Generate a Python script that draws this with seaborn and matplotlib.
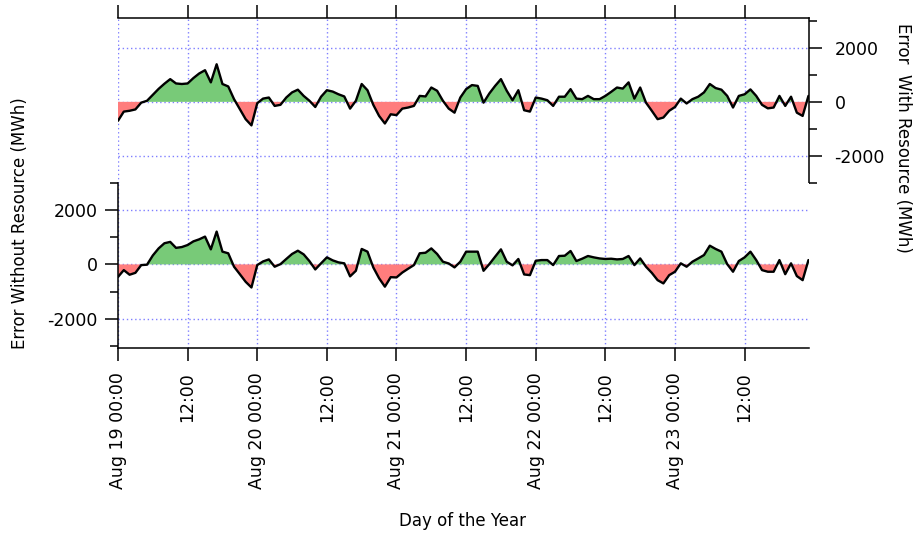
import numpy as np
import pandas as pd
import matplotlib
matplotlib.use("Agg")
import matplotlib.pyplot as plt
import matplotlib.dates as mdates
from matplotlib.ticker import MultipleLocator, FuncFormatter
import seaborn as sns

# Hourly forecast error, Aug 19 00:00 through Aug 23 23:00 (MWh)
timestamps = pd.date_range("2008-08-19 00:00", periods=120, freq="h")

error_with_resource = [
    -700, -360, -330, -280, -30, 40, 260, 480, 670, 840,
    680, 660, 680, 880, 1050, 1170, 720, 1390, 660, 570,
    100, -270, -640, -870, -50, 120, 160, -150, -110, 160,
    350, 450, 220, 40, -190, 190, 430, 380, 280, 200,
    -250, 40, 660, 430, -110, -520, -800, -460, -490, -250,
    -210, -150, 220, 200, 530, 410, 40, -250, -400, 160,
    470, 620, 590, -30, 310, 590, 840, 410, 60, 430,
    -310, -360, 160, 120, 60, -150, 190, 190, 470, 120,
    100, 220, 100, 100, 220, 370, 530, 490, 720, 120,
    530, -30, -330, -640, -580, -330, -190, 120, -60, 100,
    190, 350, 660, 510, 450, 220, -210, 220, 280, 460,
    220, -110, -240, -210, 220, -150, 190, -400, -520, 220,
]

error_without_resource = [
    -460, -210, -380, -310, -25, -10, 330, 590, 780, 830,
    610, 640, 715, 850, 925, 1025, 555, 1210, 470, 410,
    -85, -360, -640, -850, -25, 110, 185, -85, 10, 200,
    385, 505, 370, 120, -185, 40, 260, 150, 75, 40,
    -440, -235, 570, 470, -110, -510, -820, -470, -480, -300,
    -160, -25, 410, 430, 590, 385, 100, 35, -110, 100,
    470, 470, 470, -235, 10, 285, 555, 100, -35, 200,
    -370, -395, 135, 160, 160, -25, 310, 320, 495, 125,
    210, 310, 260, 220, 200, 210, 185, 200, 310, -25,
    220, -85, -310, -580, -700, -395, -270, 40, -85, 100,
    220, 345, 690, 570, 470, 10, -270, 125, 260, 470,
    160, -210, -270, -270, 160, -360, 40, -430, -580, 160,
]

GREEN = "#78ca78"
RED = "#ff7d7d"
GRID_BLUE = "#7f7fff"

sns.set_style("white")
plt.rcParams["font.family"] = ["DejaVu Sans"]
plt.rcParams["font.size"] = 12
plt.rcParams["axes.unicode_minus"] = False
for key in ("text.color", "axes.labelcolor", "xtick.color", "ytick.color"):
    plt.rcParams[key] = "black"

TICK_FS = 12.5
LABEL_FS = 12

W, H = 915, 535
fig = plt.figure(figsize=(W / 100, H / 100), dpi=100)
ax_top = fig.add_axes([118 / W, 1 - 183 / H, 691 / W, 165 / H])
ax_bot = fig.add_axes([118 / W, 1 - 348 / H, 691 / W, 165 / H])

x = mdates.date2num(timestamps.to_pydatetime())
xmin, xmax = x[0], x[-1] + 0.004


def draw_error(ax, values):
    v = np.asarray(values, dtype=float)
    ax.fill_between(x, v, 0, where=v >= 0, interpolate=True, color=GREEN, lw=0, zorder=2)
    ax.fill_between(x, v, 0, where=v <= 0, interpolate=True, color=RED, lw=0, zorder=2)
    sns.lineplot(x=x, y=v, ax=ax, color="black", lw=1.7, zorder=3)
    ax.set_xlim(xmin, xmax)
    ax.xaxis.set_major_locator(MultipleLocator(0.5))
    ax.yaxis.set_major_locator(MultipleLocator(2000))
    ax.yaxis.set_minor_locator(MultipleLocator(1000))
    ax.set_axisbelow(True)
    ax.grid(True, which="major", color=GRID_BLUE, ls=(0, (1, 2)), lw=1.0)
    ax.set_xlabel("")
    ax.set_ylabel("")
    for s in ax.spines.values():
        s.set_linewidth(1.1)
        s.set_color("black")


def time_label(val, pos):
    d = mdates.num2date(val)
    if d.hour == 0:
        return d.strftime("%b %d %H:%M")
    return d.strftime("%H:%M")


# upper panel: error with the resource, axes on top and right
draw_error(ax_top, error_with_resource)
ax_top.set_ylim(-3000, 3100)
ax_top.spines["left"].set_visible(False)
ax_top.spines["bottom"].set_visible(False)
ax_top.tick_params(axis="x", which="both", top=True, bottom=False,
                   labeltop=False, labelbottom=False, direction="out",
                   length=9.4, width=1.1)
ax_top.tick_params(axis="y", which="major", right=True, left=False,
                   labelright=True, labelleft=False, direction="out",
                   length=9.4, width=1.1, pad=9, labelsize=TICK_FS)
ax_top.tick_params(axis="y", which="minor", right=True, left=False,
                   direction="out", length=5.8, width=1.1)

# lower panel: error without the resource, axes on left and bottom
draw_error(ax_bot, error_without_resource)
ax_bot.set_ylim(-3080, 3000)
ax_bot.spines["top"].set_visible(False)
ax_bot.spines["right"].set_visible(False)
ax_bot.xaxis.set_major_formatter(FuncFormatter(time_label))
ax_bot.tick_params(axis="x", which="both", bottom=True, top=False,
                   direction="out", length=9.4, width=1.1, pad=8,
                   labelrotation=90, labelsize=TICK_FS)
ax_bot.tick_params(axis="y", which="major", left=True, right=False,
                   direction="out", length=9.4, width=1.1, pad=5,
                   labelsize=TICK_FS)
ax_bot.tick_params(axis="y", which="minor", left=True, right=False,
                   direction="out", length=5.8, width=1.1)
for lbl in ax_bot.get_xticklabels():
    lbl.set_va("top")
    lbl.set_ha("center")

fig.text(20 / W, 1 - 223 / H, "Error Without Resource (MWh)", rotation=90,
         ha="center", va="center", fontsize=LABEL_FS)
fig.text(903 / W, 1 - 138 / H, "Error  With Resource (MWh)", rotation=270,
         ha="center", va="center", fontsize=LABEL_FS)
fig.text(463 / W, 1 - 521 / H, "Day of the Year", ha="center", va="center",
         fontsize=LABEL_FS)

fig.savefig("out.png", dpi=100, facecolor="white")
